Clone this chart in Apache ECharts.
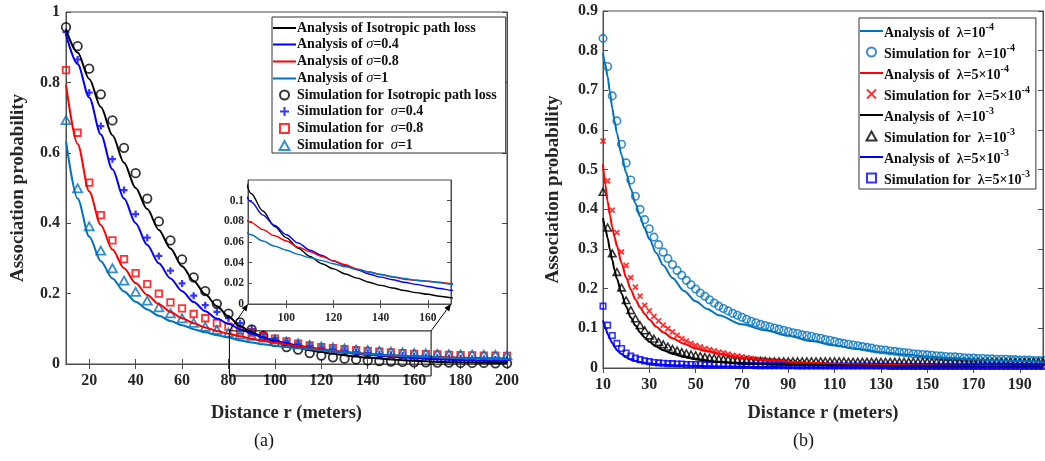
<!DOCTYPE html>
<html><head><meta charset="utf-8">
<script src="https://cdn.jsdelivr.net/npm/echarts@6/dist/echarts.min.js"></script>
<style>html,body{margin:0;padding:0;background:#fff}#c{width:1045px;height:461px}</style>
</head><body><div id="c"></div>
<script>
// ---------- Panel (a) data ----------
const xA = [10,15,20,25,30,35,40,45,50,55,60,65,70,75,80,85,90,95,100,105,110,115,120,125,130,135,140,145,150,155,160,165,170,175,180,185,190,195,200];
const xTicksA = [20,40,60,80,100,120,140,160,180,200];
const yTicksA = [0,0.2,0.4,0.6,0.8,1];
const insetXTicks = [100,120,140,160];
const insetYTicks = [0,0.02,0.04,0.06,0.08,0.1];

const anaIso = [0.950,0.885,0.810,0.730,0.650,0.572,0.500,0.440,0.381,0.328,0.278,0.236,0.198,0.164,0.135,0.107,0.090,0.075,0.064,0.054,0.046,0.039,0.034,0.029,0.025,0.021,0.018,0.0155,0.013,0.011,0.0094,0.0075,0.006,0.005,0.0045,0.004,0.0035,0.003,0.0025];
const anaS04 = [0.936,0.852,0.757,0.652,0.553,0.470,0.400,0.338,0.286,0.243,0.207,0.176,0.150,0.129,0.114,0.099,0.086,0.076,0.067,0.059,0.052,0.047,0.0416,0.037,0.033,0.029,0.026,0.0235,0.021,0.019,0.017,0.015,0.0133,0.012,0.011,0.010,0.009,0.0085,0.008];
const anaS08 = [0.794,0.625,0.490,0.395,0.325,0.272,0.230,0.196,0.170,0.148,0.130,0.116,0.104,0.094,0.086,0.079,0.072,0.066,0.061,0.055,0.0506,0.046,0.0416,0.038,0.034,0.031,0.0286,0.026,0.024,0.023,0.022,0.021,0.0198,0.019,0.018,0.017,0.0165,0.016,0.0155];
const anaS1  = [0.633,0.470,0.362,0.292,0.243,0.206,0.177,0.155,0.137,0.122,0.110,0.099,0.090,0.082,0.075,0.067,0.061,0.056,0.052,0.048,0.0448,0.042,0.039,0.036,0.0334,0.031,0.0286,0.0265,0.0247,0.023,0.022,0.0205,0.019,0.018,0.017,0.016,0.0155,0.015,0.0145];

const simIso = [0.957,0.903,0.839,0.766,0.692,0.614,0.542,0.470,0.405,0.351,0.297,0.246,0.207,0.171,0.143,0.118,0.098,0.080,0.062,0.048,0.041,0.031,0.024,0.019,0.015,0.013,0.010,0.008,0.007,0.006,0.005,0.005,0.004,0.004,0.003,0.003,0.003,0.002,0.002];
const simS04 = [0.943,0.865,0.771,0.676,0.582,0.494,0.426,0.359,0.307,0.265,0.229,0.194,0.167,0.148,0.130,0.116,0.099,0.085,0.073,0.064,0.057,0.051,0.046,0.042,0.038,0.034,0.031,0.028,0.026,0.024,0.022,0.020,0.018,0.017,0.016,0.015,0.014,0.013,0.012];
const simS08 = [0.835,0.657,0.515,0.423,0.351,0.298,0.258,0.227,0.200,0.175,0.158,0.142,0.130,0.116,0.106,0.095,0.089,0.080,0.072,0.064,0.058,0.053,0.048,0.045,0.042,0.039,0.037,0.035,0.033,0.031,0.029,0.028,0.027,0.026,0.025,0.0245,0.024,0.0235,0.023];
const simS1  = [0.693,0.499,0.391,0.322,0.272,0.237,0.205,0.180,0.161,0.144,0.130,0.117,0.106,0.097,0.089,0.084,0.080,0.075,0.070,0.064,0.059,0.054,0.050,0.047,0.044,0.041,0.039,0.037,0.035,0.033,0.031,0.030,0.029,0.028,0.027,0.0265,0.026,0.0255,0.025];

// ---------- Panel (b) data ----------
const xB = [10,12,14,16,18,20,22,24,26,28,30,32,34,36,38,40,42,44,46,48,50,52,54,56,58,60,62,64,66,68,70,72,74,76,78,80,82,84,86,88,90,92,94,96,98,100,102,104,106,108,110,112,114,116,118,120,122,124,126,128,130,132,134,136,138,140,142,144,146,148,150,152,154,156,158,160,162,164,166,168,170,172,174,176,178,180,182,184,186,188,190,192,194,196,198,200];
const xLineB = [10,11,12,13,14,15,16,18,20,22,24,26,28,30,33,36,40,45,50,55,60,70,80,90,100,110,120,130,140,150,160,170,180,190,200];
const xTicksB = [10,30,50,70,90,110,130,150,170,190];
const yTicksB = [0,0.1,0.2,0.3,0.4,0.5,0.6,0.7,0.8,0.9];

const anaL1 = [0.793,0.765,0.735,0.695,0.655,0.622,0.592,0.537,0.492,0.452,0.415,0.382,0.352,0.325,0.290,0.259,0.227,0.194,0.168,0.149,0.133,0.110,0.095,0.081,0.068,0.057,0.048,0.040,0.034,0.029,0.025,0.022,0.0195,0.0175,0.016];
const anaL2 = [0.514,0.462,0.420,0.385,0.355,0.330,0.308,0.265,0.228,0.198,0.173,0.153,0.136,0.122,0.104,0.090,0.075,0.061,0.049,0.042,0.036,0.026,0.020,0.016,0.013,0.011,0.009,0.008,0.007,0.006,0.0055,0.005,0.0045,0.004,0.004];
const anaL3 = [0.378,0.352,0.328,0.298,0.272,0.247,0.225,0.188,0.155,0.127,0.107,0.090,0.077,0.066,0.054,0.045,0.036,0.028,0.022,0.018,0.015,0.012,0.010,0.009,0.008,0.007,0.006,0.0055,0.005,0.0045,0.004,0.0035,0.003,0.003,0.003];
const anaL4 = [0.120,0.102,0.086,0.073,0.063,0.053,0.045,0.035,0.027,0.021,0.018,0.015,0.013,0.0115,0.0095,0.008,0.007,0.006,0.005,0.0045,0.004,0.003,0.0025,0.002,0.002,0.0018,0.0016,0.0015,0.0014,0.0013,0.0012,0.0012,0.0011,0.001,0.001];

const simL1 = [0.831,0.760,0.686,0.623,0.564,0.517,0.474,0.433,0.400,0.374,
 0.351,0.330,0.311,0.292,0.276,0.261,0.246,0.234,0.221,0.210,
 0.199,0.189,0.181,0.172,0.164,0.156,0.150,0.144,0.138,0.133,
 0.128,0.123,0.118,0.114,0.110,0.107,0.104,0.101,0.098,0.095,
 0.092,0.089,0.087,0.084,0.082,0.080,0.077,0.075,0.072,0.070,
 0.067,0.064,0.062,0.060,0.058,0.056,0.054,0.052,0.050,0.048,
 0.046,0.045,0.043,0.042,0.040,0.039,0.038,0.036,0.035,0.034,
 0.033,0.032,0.031,0.030,0.029,0.028,0.028,0.027,0.026,0.025,
 0.025,0.024,0.024,0.023,0.023,0.022,0.022,0.022,0.021,0.021,
 0.020,0.020,0.020,0.019,0.019,0.019];
const simL2 = [0.572,0.472,0.398,0.341,0.293,0.259,0.228,0.204,0.181,0.158,
 0.144,0.130,0.119,0.108,0.099,0.091,0.082,0.074,0.068,0.062,
 0.057,0.053,0.049,0.046,0.043,0.040,0.038,0.035,0.032,0.030,
 0.028,0.026,0.024,0.022,0.021,0.019,0.018,0.017,0.016,0.015,
 0.014,0.013,0.012,0.011,0.011,0.010,0.010,0.009,0.009,0.008,
 0.008,0.008,0.007,0.007,0.007,0.006,0.006,0.006,0.006,0.006,
 0.005,0.005,0.005,0.005,0.005,0.005,0.005,0.005,0.005,0.005,
 0.005,0.005,0.004,0.004,0.004,0.004,0.004,0.004,0.004,0.004,
 0.004,0.004,0.004,0.004,0.004,0.004,0.004,0.004,0.004,0.004,
 0.004,0.004,0.004,0.004,0.004,0.004];
const simL3 = [0.444,0.354,0.289,0.242,0.203,0.171,0.146,0.125,0.108,0.095,
 0.082,0.074,0.066,0.060,0.054,0.048,0.044,0.040,0.037,0.034,
 0.032,0.030,0.028,0.026,0.025,0.024,0.023,0.022,0.021,0.020,
 0.019,0.019,0.018,0.018,0.018,0.018,0.017,0.017,0.017,0.017,
 0.017,0.017,0.017,0.017,0.017,0.017,0.017,0.017,0.017,0.017,
 0.017,0.017,0.017,0.016,0.016,0.016,0.016,0.016,0.016,0.016,
 0.016,0.016,0.016,0.016,0.016,0.016,0.016,0.016,0.016,0.016,
 0.016,0.016,0.016,0.016,0.016,0.016,0.016,0.016,0.016,0.016,
 0.016,0.016,0.016,0.016,0.016,0.016,0.016,0.016,0.016,0.016,
 0.016,0.016,0.016,0.016,0.016,0.016];
const simL4 = [0.156,0.108,0.082,0.062,0.049,0.038,0.030,0.025,0.021,0.018,
 0.016,0.014,0.013,0.012,0.011,0.011,0.010,0.010,0.009,0.009,
 0.009,0.009,0.008,0.008,0.008,0.008,0.008,0.007,0.007,0.007,
 0.007,0.007,0.007,0.006,0.006,0.006,0.006,0.006,0.006,0.006,
 0.006,0.006,0.005,0.005,0.005,0.005,0.005,0.005,0.005,0.005,
 0.005,0.005,0.005,0.005,0.005,0.005,0.005,0.005,0.005,0.005,
 0.005,0.005,0.004,0.004,0.004,0.004,0.004,0.004,0.004,0.004,
 0.004,0.004,0.004,0.004,0.004,0.004,0.004,0.004,0.004,0.004,
 0.004,0.004,0.004,0.004,0.004,0.004,0.004,0.004,0.004,0.004,
 0.004,0.004,0.004,0.004,0.004,0.004];

// zoom box of panel (a), in data units
const zoomBox = {x0: 80.4, x1: 167.3, y0: -0.034, y1: 0.094};

// ---------- helpers ----------
const zip = (xs, ys) => xs.map((x, i) => [x, ys[i]]);
const FONT = 'Liberation Serif';
const C = {black:'#000000', blue:'#0000FF', red:'#FF0000', cyan:'#0072BD', axis:'#4d4d4d', text:'#262626'};
const PLUS = 'path://M5,0L5,10M0,5L10,5';
const CROSS = 'path://M0,0L10,10M10,0L0,10';
const SQUARE = 'path://M0,0L10,0L10,10L0,10Z';
const TRI = 'path://M5,0L10,9L0,9Z';
const BAR = 'path://M0,0L23,0L23,2L0,2Z';

function lineS(name, xs, ys, color, xi, yi, w) {
  return {type:'line', name, data: zip(xs, ys), xAxisIndex:xi, yAxisIndex:yi, symbol:'none',
    smooth:0.3, smoothMonotone:'x', lineStyle:{color, width:w||2}, itemStyle:{color}, clip:true, silent:true, animation:false};
}
function scatS(name, xs, ys, color, sym, size, xi, yi, stroke) {
  return {type:'scatter', name, data: zip(xs, ys), xAxisIndex:xi, yAxisIndex:yi, symbol:sym, symbolSize:size, symbolKeepAspect:true,
    itemStyle:{color:'rgba(0,0,0,0)', borderColor:color, borderWidth:stroke||1.6}, silent:true, animation:false};
}
function valAxis(o) {
  return Object.assign({type:'value', axisLine:{show:true, lineStyle:{color:C.axis, width:1}},
    axisTick:{show:true, inside:true, length:5, lineStyle:{color:C.axis}}, splitLine:{show:false},
    axisLabel:{color:C.text, fontFamily:FONT, fontWeight:'bold', fontSize:16}}, o);
}
function tickOnly(o) {
  return valAxis(Object.assign({axisLabel:{show:false}}, o));
}

const legendFmt = n => '{b|' + n.replace(/σ/g, '}{i|σ}{b|').replace(/\^(-?\d+)/g, '}{s|$1}{b|') + '}';

const namesA = ['Analysis of Isotropic path loss','Analysis of σ=0.4','Analysis of σ=0.8','Analysis of σ=1',
  'Simulation for Isotropic path loss','Simulation for  σ=0.4','Simulation for  σ=0.8','Simulation for  σ=1'];
const namesB = ['Analysis of  λ=10^-4','Simulation for  λ=10^-4','Analysis of  λ=5×10^-4','Simulation for  λ=5×10^-4',
  'Analysis of  λ=10^-3','Simulation for  λ=10^-3','Analysis of  λ=5×10^-3','Simulation for  λ=5×10^-3'];
const legendItems = names => names.map(n => n.indexOf('Analysis') === 0 ? {name:n, icon:BAR} : {name:n});

const chart = echarts.init(document.getElementById('c'), null, {renderer:'canvas'});
const gA = {left:66, top:12, width:441, height:352};
const gI = {left:248, top:180, width:203, height:124};
const gB = {left:603, top:11, width:440, height:357};

const option = {
  animation:false,
  backgroundColor:'#fff',
  grid:[
    Object.assign({show:true, borderColor:C.axis, borderWidth:1, containLabel:false}, gA),
    Object.assign({show:true, borderColor:C.axis, borderWidth:1, backgroundColor:'#fff', containLabel:false, z:5}, gI),
    Object.assign({show:true, borderColor:C.axis, borderWidth:1, containLabel:false}, gB)
  ],
  xAxis:[
    valAxis({gridIndex:0, min:10, max:200, axisTick:{show:true, inside:true, length:5, customValues:xTicksA, lineStyle:{color:C.axis}},
      axisLabel:{customValues:xTicksA, color:C.text, fontFamily:FONT, fontWeight:'bold', fontSize:16, margin:9},
      name:'Distance r (meters)', nameLocation:'middle', nameGap:40,
      nameTextStyle:{color:C.text, fontFamily:FONT, fontWeight:'bold', fontSize:18.5}}),
    tickOnly({gridIndex:0, position:'top', min:10, max:200, axisTick:{show:true, inside:true, length:5, customValues:xTicksA, lineStyle:{color:C.axis}}}),
    valAxis({gridIndex:1, min:83.7, max:169.8, z:6, axisTick:{show:true, inside:true, length:4, customValues:insetXTicks, lineStyle:{color:C.axis}},
      axisLabel:{customValues:insetXTicks, color:C.text, fontFamily:FONT, fontWeight:'bold', fontSize:11.5, margin:8}}),
    tickOnly({gridIndex:1, position:'top', min:83.7, max:169.8, z:6, axisTick:{show:true, inside:true, length:4, customValues:insetXTicks, lineStyle:{color:C.axis}}}),
    valAxis({gridIndex:2, min:10, max:200, interval:20, axisTick:{show:true, inside:true, length:5, customValues:xTicksB, lineStyle:{color:C.axis}},
      axisLabel:{customValues:xTicksB, color:C.text, fontFamily:FONT, fontWeight:'bold', fontSize:16, margin:9},
      name:'Distance r (meters)', nameLocation:'middle', nameGap:36,
      nameTextStyle:{color:C.text, fontFamily:FONT, fontWeight:'bold', fontSize:18.5}}),
    tickOnly({gridIndex:2, position:'top', min:10, max:200, axisTick:{show:true, inside:true, length:5, customValues:xTicksB, lineStyle:{color:C.axis}}})
  ],
  yAxis:[
    valAxis({gridIndex:0, min:0, max:1, interval:0.2, axisLabel:{customValues:yTicksA, color:C.text, fontFamily:FONT, fontWeight:'bold', fontSize:16, margin:6},
      name:'Association probability', nameLocation:'middle', nameGap:38,
      nameTextStyle:{color:C.text, fontFamily:FONT, fontWeight:'bold', fontSize:19}}),
    tickOnly({gridIndex:0, position:'right', min:0, max:1, interval:0.2}),
    valAxis({gridIndex:1, min:0, max:0.12, interval:0.02, z:6, axisTick:{show:true, inside:true, length:4, customValues:insetYTicks, lineStyle:{color:C.axis}},
      axisLabel:{customValues:insetYTicks, color:C.text, fontFamily:FONT, fontWeight:'bold', fontSize:11.5, margin:4}}),
    tickOnly({gridIndex:1, position:'right', min:0, max:0.12, interval:0.02, z:6, axisTick:{show:true, inside:true, length:4, customValues:insetYTicks, lineStyle:{color:C.axis}}}),
    valAxis({gridIndex:2, min:0, max:0.9, interval:0.1, axisLabel:{customValues:yTicksB, color:C.text, fontFamily:FONT, fontWeight:'bold', fontSize:16, margin:5},
      name:'Association probability', nameLocation:'middle', nameGap:40,
      nameTextStyle:{color:C.text, fontFamily:FONT, fontWeight:'bold', fontSize:19}}),
    tickOnly({gridIndex:2, position:'right', min:0, max:0.9, interval:0.1})
  ],
  legend:[
    {data:legendItems(namesA), orient:'vertical', left:272, top:17, itemWidth:23, itemHeight:9, itemGap:2,
     padding:[4,9,0,1], borderColor:'#333', borderWidth:1, backgroundColor:'#fff', selectedMode:false, z:10,
     formatter:legendFmt,
     textStyle:{color:'#111', fontFamily:FONT, fontWeight:'bold', fontSize:14, lineHeight:14, padding:[0,0,0,-4],
       rich:{b:{fontFamily:FONT, fontWeight:'bold', fontSize:14, lineHeight:14},
             i:{fontFamily:FONT, fontStyle:'italic', fontWeight:'normal', fontSize:14.5, lineHeight:14}}}},
    {data:legendItems(namesB), orient:'vertical', left:859, top:18, itemWidth:23, itemHeight:9, itemGap:3,
     padding:[4,6,2,1], borderColor:'#333', borderWidth:1, backgroundColor:'#fff', selectedMode:false, z:10,
     formatter:legendFmt,
     textStyle:{color:'#111', fontFamily:FONT, fontWeight:'bold', fontSize:14, lineHeight:18, padding:[0,0,0,-4],
       rich:{b:{fontFamily:FONT, fontWeight:'bold', fontSize:14, lineHeight:18, verticalAlign:'bottom'},
             s:{fontFamily:FONT, fontWeight:'bold', fontSize:10, lineHeight:18, verticalAlign:'top'}}}}
  ],
  series:[
    lineS(namesA[0], xA, anaIso, C.black, 0, 0),
    lineS(namesA[1], xA, anaS04, C.blue, 0, 0),
    lineS(namesA[2], xA, anaS08, C.red, 0, 0),
    lineS(namesA[3], xA, anaS1, C.cyan, 0, 0),
    scatS(namesA[4], xA, simIso, C.black, 'circle', 8.5, 0, 0, 1.8),
    scatS(namesA[5], xA, simS04, C.blue, PLUS, 7, 0, 0, 2.2),
    scatS(namesA[6], xA, simS08, C.red, SQUARE, 6.5, 0, 0, 1.8),
    scatS(namesA[7], xA, simS1, C.cyan, TRI, 9, 0, 0, 1.8),
    Object.assign(lineS('inset iso', xA, anaIso, C.black, 2, 2, 1.4), {z:7}),
    Object.assign(lineS('inset 0.4', xA, anaS04, C.blue, 2, 2, 1.4), {z:7}),
    Object.assign(lineS('inset 0.8', xA, anaS08, C.red, 2, 2, 1.4), {z:7}),
    Object.assign(lineS('inset 1', xA, anaS1, C.cyan, 2, 2, 1.4), {z:7}),
    lineS(namesB[0], xLineB, anaL1, C.cyan, 4, 4),
    scatS(namesB[1], xB, simL1, C.cyan, 'circle', 7.5, 4, 4, 1.6),
    lineS(namesB[2], xLineB, anaL2, C.red, 4, 4),
    scatS(namesB[3], xB, simL2, C.red, CROSS, 5, 4, 4, 1.8),
    lineS(namesB[4], xLineB, anaL3, C.black, 4, 4),
    scatS(namesB[5], xB, simL3, C.black, TRI, 7.5, 4, 4, 1.6),
    lineS(namesB[6], xLineB, anaL4, C.blue, 4, 4),
    scatS(namesB[7], xB, simL4, C.blue, SQUARE, 5.5, 4, 4, 1.6)
  ]
};
chart.setOption(option);

// zoom-box annotation and connector arrows, placed through the axes
const p = (x, y) => chart.convertToPixel({xAxisIndex:0, yAxisIndex:0}, [x, y]);
const q = (x, y) => chart.convertToPixel({xAxisIndex:2, yAxisIndex:2}, [x, y]);
const tl = p(zoomBox.x0, zoomBox.y1), br = p(zoomBox.x1, zoomBox.y0);
const insBL = q(83.7, 0), insBR = q(169.8, 0);
const tr = [br[0], tl[1]];
function arrow(a, b) {
  const dx = b[0]-a[0], dy = b[1]-a[1], L = Math.hypot(dx, dy), ux = dx/L, uy = dy/L;
  const hl = 7, hw = 3;
  const base = [b[0]-ux*hl, b[1]-uy*hl];
  return [
    {type:'line', shape:{x1:a[0], y1:a[1], x2:base[0], y2:base[1]}, style:{stroke:'#000', lineWidth:1}, z:20},
    {type:'polygon', shape:{points:[b, [base[0]-uy*hw, base[1]+ux*hw], [base[0]+uy*hw, base[1]-ux*hw]]}, style:{fill:'#000'}, z:20}
  ];
}
chart.setOption({graphic:[
  {type:'rect', shape:{x:tl[0], y:tl[1], width:br[0]-tl[0], height:br[1]-tl[1]}, style:{fill:null, stroke:'#000', lineWidth:1}, z:20},
  ...arrow(tl, insBL), ...arrow(tr, insBR),
  {type:'text', left:254, top:432, style:{text:'(a)', font:'18px "Liberation Serif"', fill:'#111'}},
  {type:'text', left:793, top:432, style:{text:'(b)', font:'18px "Liberation Serif"', fill:'#111'}}
]});
</script></body></html>
